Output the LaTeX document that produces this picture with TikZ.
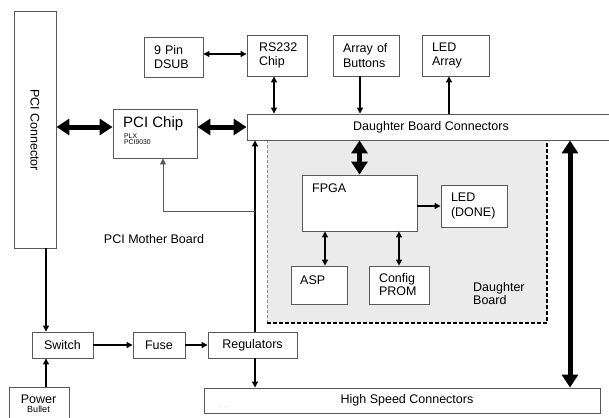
\documentclass[tikz,border=0pt]{standalone}
\usepackage{fontspec}
\setmainfont{Liberation Sans}
\usetikzlibrary{arrows.meta}
\definecolor{boxgray}{gray}{0.35}
\definecolor{dbfill}{gray}{0.92}
\newcommand\mfont{\fontsize{12.5}{14.5}\selectfont}
\begin{document}
\begin{tikzpicture}[x=1pt,y=-1pt,
  box/.style={draw=boxgray, line width=0.9pt, fill=white, inner ysep=0pt, font=\mfont},
  tbox/.style n args={2}{box, inner xsep=#1, text width=#2, align=left},
  thinarr/.style={line width=1.2pt, -{Triangle[length=6pt,width=6pt]}},
  thinboth/.style={line width=1.2pt, {Triangle[length=6pt,width=6pt]}-{Triangle[length=6pt,width=6pt]}},
  thickboth/.style={line width=5pt, {Triangle[length=13pt,width=16pt]}-{Triangle[length=13pt,width=16pt]}},
  txt/.style={font=\mfont, inner sep=0pt}]

\useasboundingbox (0,0) rectangle (609,417);
\fill[white] (0,0) rectangle (609,417);

% daughter board area
\fill[dbfill] (267,140) rectangle (547,323);
\draw[black!45, line width=0.6pt, dash pattern=on 3pt off 2pt] (267,140) -- (267,323);
\draw[black, line width=1.4pt, dash pattern=on 4pt off 2pt] (267,323) -- (547,323) -- (547,140);

% boxes
\node[box, minimum width=42pt, minimum height=237pt] (pcicon) at (35,129.5) {};
\node[txt, rotate=-90] (pcicontxt) at (35,130) {PCI Connector};

\node[box, minimum width=84pt, minimum height=49pt] (pcichip) at (155,133.5) {};
\node[inner sep=0pt, anchor=base west, font=\fontsize{15}{15}\selectfont] (pcichiptxt) at (123,127) {PCI Chip};
\node[inner sep=0pt, anchor=base west, font=\fontsize{6.8}{6.8}\selectfont] (plxtxt) at (124,138) {PLX};
\node[inner sep=0pt, anchor=base west, font=\fontsize{6.8}{6.8}\selectfont] (pci9030txt) at (124,144.5) {PCI9030};

\node[tbox={10pt}{39pt}, minimum height=40pt] (dsub) at (173.5,57) {9 Pin\\DSUB};
\node[tbox={12pt}{36pt}, minimum height=41pt] (rs232) at (277,55.5) {RS232\\Chip};
\node[tbox={10pt}{46pt}, minimum height=41pt] (buttons) at (366,55.5) {Array of\\Buttons};
\node[tbox={10pt}{47pt}, minimum height=41pt] (ledarr) at (455.5,55.5) {LED\\Array};

\node[box, minimum width=368pt, minimum height=26pt] (dbc) at (431,127) {Daughter Board Connectors};

\node[box, minimum width=115pt, minimum height=56pt] (fpga) at (359.5,203) {};
\node[txt, anchor=base west] (fpgatxt) at (312,192) {FPGA};
\node[tbox={10pt}{46pt}, minimum height=42pt] (leddone) at (474,206) {LED\\(DONE)};
\node[box, minimum width=56pt, minimum height=38pt] (asp) at (319,285) {};
\node[txt, anchor=base west] (asptxt) at (300,284) {ASP};
\node[tbox={10pt}{40pt}, minimum height=38pt, font=\fontsize{12.5}{13}\selectfont] (config) at (399,285) {Config\\PROM};

\node[box, minimum width=61pt, minimum height=26pt] (switch) at (62.5,345) {Switch};
\node[box, minimum width=52pt, minimum height=26pt] (fuse) at (159,345) {Fuse};
\node[box, minimum width=89pt, minimum height=26pt] (reg) at (252.5,345) {Regulators};

\node[box, minimum width=60pt, minimum height=36pt] (power) at (39,405) {};
\node[txt, anchor=base] (powertxt) at (38.5,403) {Power};
\node[inner sep=0pt, anchor=base, font=\fontsize{9}{9}\selectfont] (bullettxt) at (38.5,412.5) {Bullet};

\node[box, minimum width=396pt, minimum height=25pt] (hsc) at (402,400.5) {};
\node[txt] (hsctxt) at (407,400.5) {High Speed Connectors};
\node[inner sep=0pt, font=\fontsize{6}{6}\selectfont, text=black!40] (dots) at (225,407) {. . .};

% free labels
\node[txt, anchor=base] (mbtxt) at (154,243) {PCI Mother Board};
\node[txt, anchor=north west, align=left, font=\fontsize{12.5}{13}\selectfont] (dbtxt) at (473,282) {Daughter\\Board};

% helper coordinates
\coordinate (swin) at ([xshift=-16.5pt]switch.north);
\coordinate (swout) at ([xshift=-16.5pt]switch.south);
\coordinate (regtop) at ([xshift=2.5pt]reg.north);
\coordinate (regbot) at ([xshift=2.5pt]reg.south);
\coordinate (jy) at (0,211);
\coordinate (junc) at (regtop |- jy);
\coordinate (pcin) at ([xshift=8pt]pcichip.south);
\coordinate (bigtop) at ([xshift=168pt]hsc.north);
\coordinate (dsubr) at ([yshift=3pt]dsub.east);
\coordinate (rsb) at ([xshift=-3pt]rs232.south);
\coordinate (btb) at ([xshift=-6pt]buttons.south);
\coordinate (lat) at ([xshift=-6.5pt]ledarr.south);
\coordinate (aspt) at ([xshift=6pt]asp.north);

% power path
\draw[thinarr] (pcicon.south -| swin) -- (swin);
\draw[thinarr] (power.north -| swout) -- (swout);
\draw[thinarr] (switch.east) -- (fuse.west);
\draw[thinarr] (fuse.east) -- (reg.west);
\draw[thinarr] (regbot) -- (regbot |- hsc.north);
\draw[thinarr] (regtop) -- (regtop |- dbc.south);
\draw[line width=0.8pt, boxgray, -{Triangle[length=6pt,width=6pt]}] (junc) -| (pcin);

% thick buses
\draw[thickboth] (pcicon.east |- dbc.west) -- (pcichip.west |- dbc.west);
\draw[thickboth] (pcichip.east |- dbc.west) -- (dbc.west);
\draw[thickboth] (fpga.north |- dbc.south) -- (fpga.north);
\draw[thickboth] (bigtop |- dbc.south) -- (bigtop);

% thin links
\draw[thinboth] (dsubr) -- (dsubr -| rs232.west);
\draw[thinboth] (rsb) -- (rsb |- dbc.north);
\draw[thinarr] (btb) -- (btb |- dbc.north);
\draw[thinarr] (lat |- dbc.north) -- (lat);
\draw[thinarr] (fpga.east |- leddone.west) -- (leddone.west);
\draw[thinboth] (aspt |- fpga.south) -- (aspt);
\draw[thinboth] (config.north |- fpga.south) -- (config.north);
\end{tikzpicture}
\end{document}
